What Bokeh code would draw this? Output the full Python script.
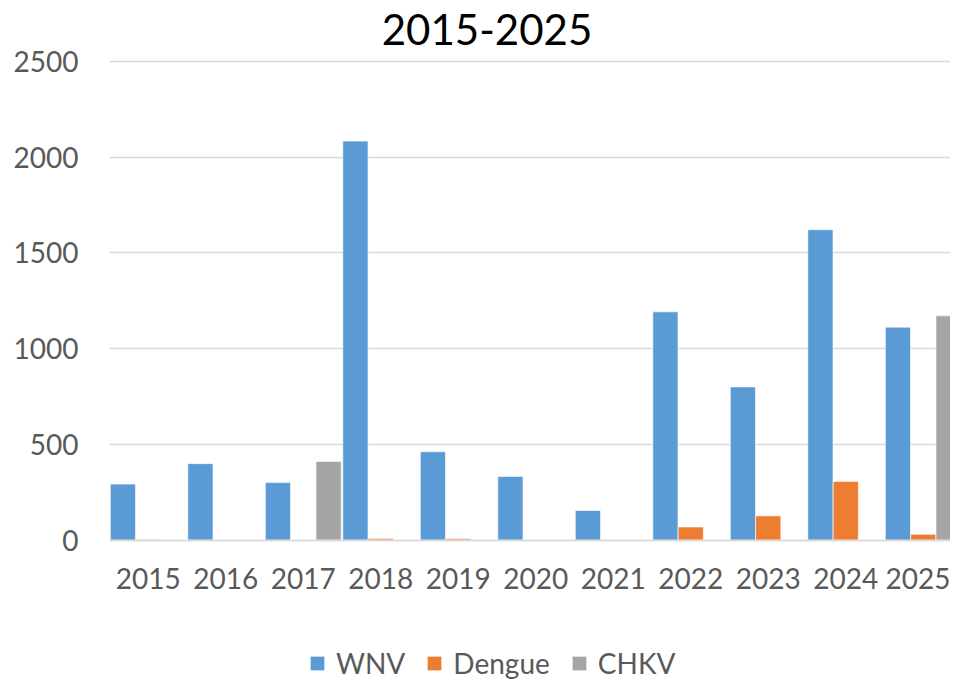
from bokeh.plotting import figure
from bokeh.models import ColumnDataSource, Range1d, FixedTicker, Legend, LegendItem, Label
from bokeh.transform import dodge
from bokeh.embed import file_html
from bokeh.resources import INLINE

years = ["2015", "2016", "2017", "2018", "2019", "2020", "2021", "2022", "2023", "2024", "2025"]
wnv = [292, 399, 300, 2084, 461, 332, 154, 1192, 800, 1621, 1112]
dengue = [2, 0, 0, 8, 7, 0, 0, 68, 126, 306, 30]
chkv = [0, 0, 410, 0, 0, 0, 0, 0, 0, 0, 1171]
y_ticks = [0, 500, 1000, 1500, 2000, 2500]

FONT = "Lato"
TXT = "#595959"

src = ColumnDataSource(dict(x=list(range(len(years))), wnv=wnv, dengue=dengue, chkv=chkv))

W, H = 950, 680
left = 109
zero_px, top_px = 539.5, 61.0          # where 0 and 2500 sit on the canvas
ppu = (zero_px - top_px) / 2500.0
y_start = -(H - zero_px) / ppu
y_end = 2500 + top_px / ppu
x_end = -0.5 + (W - left) / 77.5

p = figure(width=W, height=H, output_backend="svg", toolbar_location=None,
           x_range=Range1d(-0.5, x_end), y_range=Range1d(y_start, y_end),
           min_border_left=left, min_border_right=0, min_border_top=0,
           min_border_bottom=0, outline_line_color=None)

bw = 0.325
off = 0.327
r1 = p.vbar(x=dodge("x", -off, range=p.x_range), top="wnv", width=bw, source=src,
            fill_color="#5B9BD5", line_color="white", line_width=1, line_alpha=0.6)
r2 = p.vbar(x=dodge("x", 0, range=p.x_range), top="dengue", width=bw, source=src,
            fill_color="#ED7D31", line_color="white", line_width=1, line_alpha=0.6)
r3 = p.vbar(x=dodge("x", off, range=p.x_range), top="chkv", width=bw, source=src,
            fill_color="#A5A5A5", line_color="white", line_width=1, line_alpha=0.6)

p.xaxis.fixed_location = 0
p.xaxis.ticker = FixedTicker(ticks=list(range(len(years))))
p.xaxis.major_label_overrides = {i: y for i, y in enumerate(years)}
p.xaxis.major_label_text_font = FONT
p.xaxis.major_label_text_font_size = "28px"
p.xaxis.major_label_text_color = TXT
p.xaxis.major_label_standoff = 28
p.xaxis.major_tick_out = 0
p.xaxis.major_tick_in = 0
p.xaxis.major_tick_line_color = None
p.xaxis.minor_tick_line_color = None
p.xaxis.axis_line_color = "#d9d9d9"
p.xaxis.axis_line_width = 1.5

p.yaxis.ticker = FixedTicker(ticks=y_ticks)
p.yaxis.major_label_text_font = FONT
p.yaxis.major_label_text_font_size = "28px"
p.yaxis.major_label_text_color = TXT
p.yaxis.major_label_standoff = 31
p.yaxis.major_tick_out = 0
p.yaxis.major_tick_in = 0
p.yaxis.major_tick_line_color = None
p.yaxis.minor_tick_line_color = None
p.yaxis.axis_line_color = None

p.xgrid.grid_line_color = None
p.ygrid.grid_line_color = "#d9d9d9"
p.ygrid.grid_line_width = 1.5

title = Label(x=486.5 - left, y=H - 28.5, x_units="screen", y_units="screen",
              text="2015-2025", text_font=FONT, text_font_size="42px",
              text_color="black", text_align="center", text_baseline="middle")
p.add_layout(title)

legend = Legend(items=[LegendItem(label="WNV", renderers=[r1]),
                       LegendItem(label="Dengue", renderers=[r2]),
                       LegendItem(label="CHKV", renderers=[r3])],
                orientation="horizontal", location=(199, 0),
                label_text_font=FONT, label_text_font_size="28px",
                label_text_color=TXT, glyph_width=18, glyph_height=18,
                label_standoff=10, spacing=20, padding=0, margin=0,
                border_line_color=None, background_fill_alpha=0)
p.add_layout(legend, "center")

open("out.html", "w").write(file_html(p, INLINE))
